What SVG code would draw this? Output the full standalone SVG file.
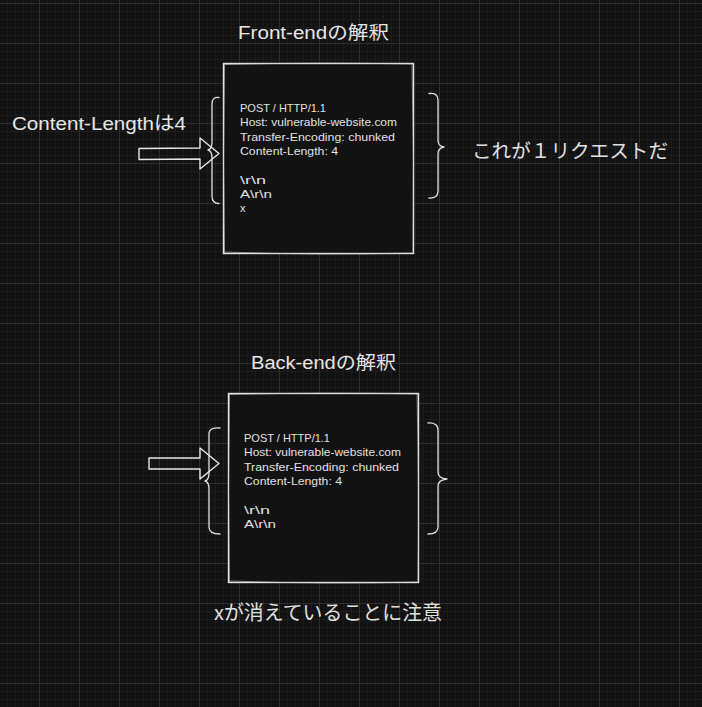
<svg xmlns="http://www.w3.org/2000/svg" width="702" height="707" viewBox="0 0 702 707">
<defs>
<pattern id="grid" width="40" height="40" patternUnits="userSpaceOnUse" x="39" y="3">
<rect width="40" height="40" fill="#121212"/>
<path d="M8.5 0V40M16.5 0V40M24.5 0V40M32.5 0V40M0 8.5H40M0 16.5H40M0 24.5H40M0 32.5H40" stroke="#1c1c1c" stroke-width="1" fill="none"/>
<path d="M0.5 0V40M0 0.5H40" stroke="#2e2e2e" stroke-width="1" fill="none"/>
</pattern>
<style>
.box{fill:#121212;stroke:#e4e4e4;stroke-width:1.4}
.sk{fill:none;stroke:#cfcfcf;stroke-width:1;opacity:.6}
.br{fill:none;stroke:#e0e0e0;stroke-width:1.3;stroke-linecap:round;stroke-linejoin:round}
.arr{fill:none;stroke:#e6e6e6;stroke-width:1.4;stroke-linejoin:round}
.code{font-family:"Liberation Sans",sans-serif;font-size:11px;fill:#e0e0e0}
.lbl{font-family:"Liberation Sans","Noto Sans CJK JP",sans-serif;fill:#e6e6e6}
.jp{font-family:"Noto Sans CJK JP",sans-serif;fill:#e0e0e0}
</style>
</defs>
<rect width="702" height="707" fill="url(#grid)"/>

<g id="front-title"><text class="lbl" x="238" y="39" font-size="18" textLength="151" lengthAdjust="spacingAndGlyphs">Front-endの解釈</text></g>

<g id="front-box">
<rect class="box" x="223.5" y="63.5" width="190" height="190"/>
<path class="sk" d="M224 64.5Q320 62 412.5 64M412 64Q414.5 160 413 252.5M412 253Q320 255.5 225 252M224.5 253Q222.5 160 224.5 65"/>
<text class="code" x="240" y="111.5" textLength="86" lengthAdjust="spacingAndGlyphs">POST / HTTP/1.1</text>
<text class="code" x="240" y="126" textLength="157" lengthAdjust="spacingAndGlyphs">Host: vulnerable-website.com</text>
<text class="code" x="240" y="140.5" textLength="155" lengthAdjust="spacingAndGlyphs">Transfer-Encoding: chunked</text>
<text class="code" x="240" y="155" textLength="98" lengthAdjust="spacingAndGlyphs">Content-Length: 4</text>
<text class="code" x="240" y="183.5" textLength="26" lengthAdjust="spacingAndGlyphs">\r\n</text>
<text class="code" x="240" y="197.5" textLength="32" lengthAdjust="spacingAndGlyphs">A\r\n</text>
<text class="code" x="240" y="212">x</text>
</g>

<g id="front-left-brace"><path class="br" d="M219 97.5Q212 96.5 212 104L212 142Q212 149 208 150Q212 151 212 158L212 196Q212 203.5 219 203.5"/></g>
<g id="front-right-brace"><path class="br" d="M429 93.5Q438 92.5 438 100L438 140Q438 146.5 444 147Q438 148 438 154L438 191Q438 198.5 429 198"/></g>

<g id="label-content-length"><text class="lbl" x="12" y="130" font-size="19" textLength="174" lengthAdjust="spacingAndGlyphs">Content-Lengthは4</text></g>
<g id="label-one-request"><text class="jp" x="472" y="158" font-size="19.5" textLength="196" lengthAdjust="spacingAndGlyphs">これが１リクエストだ</text></g>

<g id="back-title"><text class="lbl" x="251" y="369" font-size="18" textLength="145" lengthAdjust="spacingAndGlyphs">Back-endの解釈</text></g>

<g id="back-box">
<rect class="box" x="228.5" y="393.5" width="190" height="189"/>
<path class="sk" d="M229 394.5Q325 392 417.5 394M417 394Q419.5 490 418 581.5M417 582Q325 584.5 230 581M229.5 582Q227.5 490 229.5 395"/>
<text class="code" x="244" y="441.5" textLength="86" lengthAdjust="spacingAndGlyphs">POST / HTTP/1.1</text>
<text class="code" x="244" y="455.5" textLength="157" lengthAdjust="spacingAndGlyphs">Host: vulnerable-website.com</text>
<text class="code" x="244" y="470.5" textLength="155" lengthAdjust="spacingAndGlyphs">Transfer-Encoding: chunked</text>
<text class="code" x="244" y="484.5" textLength="98" lengthAdjust="spacingAndGlyphs">Content-Length: 4</text>
<text class="code" x="244" y="513.5" textLength="26" lengthAdjust="spacingAndGlyphs">\r\n</text>
<text class="code" x="244" y="527.5" textLength="32" lengthAdjust="spacingAndGlyphs">A\r\n</text>
</g>

<g id="back-left-brace"><path class="br" d="M220 428Q209 427 209 434L209 473Q209 480 205 481Q209 482 209 489L209 527Q209 534 220 534"/></g>
<g id="back-right-brace"><path class="br" d="M428 423Q438 422.5 438 430L438 472Q438 478.5 447 479Q438 480 438 486L438 527Q438 534 428 534"/></g>

<g id="label-note"><text class="jp" x="214" y="620" font-size="20" textLength="228" lengthAdjust="spacingAndGlyphs">xが消えていることに注意</text></g>

<g id="connectors">
<path class="arr" d="M139 148.5L200 148L200 138L219 153.5L200 169L200 159L139 159.5Z"/>
<path class="arr" d="M149 458L200 458L200 448L219 463.5L200 479L200 469L149 469Z"/>
</g>
</svg>
